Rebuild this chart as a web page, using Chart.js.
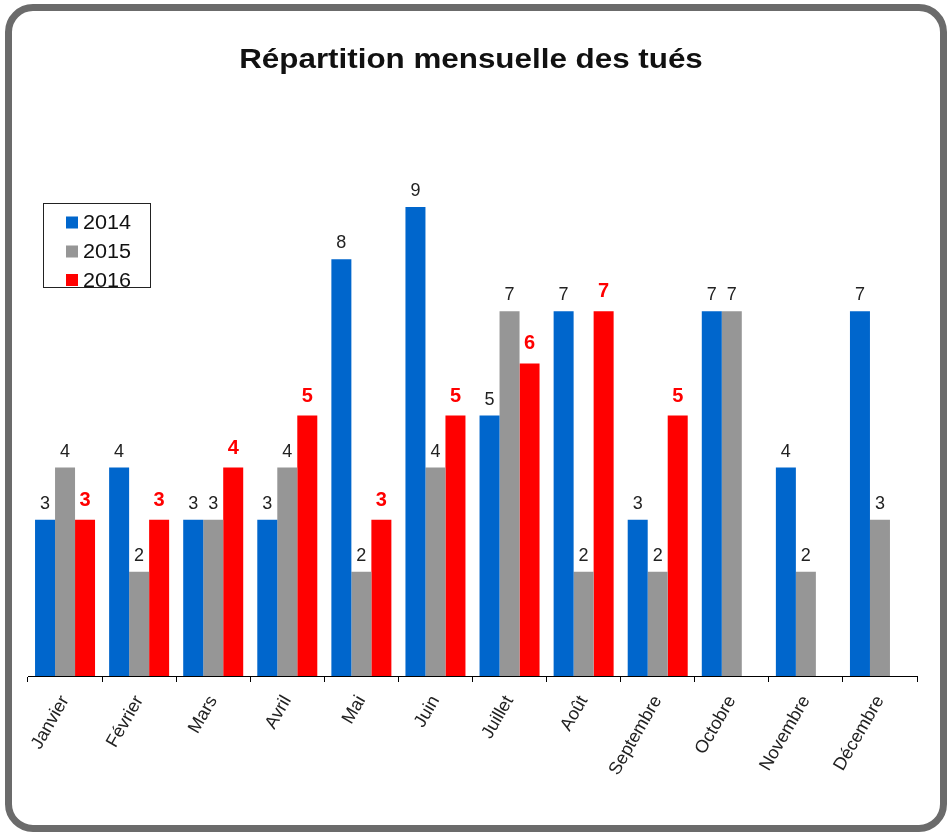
<!DOCTYPE html>
<html>
<head>
<meta charset="utf-8">
<script src="https://cdn.jsdelivr.net/npm/chart.js@4/dist/chart.umd.min.js"></script>
<style>
  html, body { margin: 0; padding: 0; background: #fff; }
  #wrap { position: relative; width: 949px; height: 832px; overflow: hidden; }
  #frame { position: absolute; left: 5px; top: 4px; width: 942px; height: 828px; box-sizing: border-box;
           border: 7px solid #6b6b6b; border-radius: 28px; }
  canvas { position: absolute; left: 0; top: 0; }
</style>
</head>
<body>
<div id="wrap">
  <div id="frame"></div>
  <canvas id="c" width="949" height="832"></canvas>
</div>
<script>
const titleText = 'Répartition mensuelle des tués';
const categories = ['Janvier','Février','Mars','Avril','Mai','Juin','Juillet','Août','Septembre','Octobre','Novembre','Décembre'];
const seriesNames = ['2014', '2015', '2016'];
const values2014 = [3, 4, 3, 3, 8, 9, 5, 7, 3, 7, 4, 7];
const values2015 = [4, 2, 3, 4, 2, 4, 7, 2, 2, 7, 2, 3];
const values2016 = [3, 3, 4, 5, 3, 5, 6, 7, 5, null, null, null];

const colors = ['#0066cc', '#969696', '#ff0000'];
const FONT = '"Liberation Sans", Arial, sans-serif';

const extras = {
  id: 'extras',
  afterDraw(chart) {
    const ctx = chart.ctx;
    ctx.save();
    // title (slightly stretched horizontally like the reference)
    ctx.save();
    ctx.translate(471, 68);
    ctx.scale(1.12, 1);
    ctx.fillStyle = '#111';
    ctx.font = 'bold 28px ' + FONT;
    ctx.textAlign = 'center';
    ctx.textBaseline = 'alphabetic';
    ctx.fillText(titleText, 0, 0);
    ctx.restore();

    // data labels
    chart.data.datasets.forEach((ds, di) => {
      const meta = chart.getDatasetMeta(di);
      meta.data.forEach((el, i) => {
        const v = ds.data[i];
        if (v === null || v === undefined) return;
        ctx.textAlign = 'center';
        ctx.textBaseline = 'alphabetic';
        if (di === 2) {
          ctx.font = 'bold 20px ' + FONT;
          ctx.fillStyle = '#ff0000';
          ctx.fillText(String(v), el.x, el.y - 14);
        } else {
          ctx.font = '18px ' + FONT;
          ctx.fillStyle = '#222';
          ctx.fillText(String(v), el.x, el.y - 11);
        }
      });
    });

    // legend
    ctx.fillStyle = '#fff';
    ctx.fillRect(43.5, 203.5, 107, 84);
    ctx.strokeStyle = '#222';
    ctx.lineWidth = 1;
    ctx.strokeRect(43.5, 203.5, 107, 84);
    const rows = [222.5, 251.5, 280];
    chart.data.datasets.forEach((ds, di) => {
      ctx.fillStyle = ds.backgroundColor;
      ctx.fillRect(66, rows[di] - 6, 12, 12);
      ctx.save();
      ctx.translate(83, rows[di] + 1);
      ctx.scale(1.08, 1);
      ctx.fillStyle = '#111';
      ctx.font = '20px ' + FONT;
      ctx.textAlign = 'left';
      ctx.textBaseline = 'middle';
      ctx.fillText(ds.label, 0, 0);
      ctx.restore();
    });
    ctx.restore();
  }
};

new Chart(document.getElementById('c'), {
  type: 'bar',
  data: {
    labels: categories,
    datasets: [
      { label: seriesNames[0], data: values2014, backgroundColor: colors[0] },
      { label: seriesNames[1], data: values2015, backgroundColor: colors[1] },
      { label: seriesNames[2], data: values2016, backgroundColor: colors[2] }
    ]
  },
  options: {
    responsive: false,
    animation: false,
    devicePixelRatio: 1,
    layout: { padding: { left: 28, right: 32, top: 155, bottom: 0 } },
    datasets: { bar: { categoryPercentage: 0.81, barPercentage: 1.0, borderWidth: 0 } },
    plugins: { legend: { display: false }, title: { display: false }, tooltip: { enabled: false } },
    scales: {
      y: { display: false, min: 0, max: 10 },
      x: {
        afterFit(axis) { axis.height = 156; },
        grid: { offset: true, drawOnChartArea: false, drawTicks: true, tickLength: 6, color: '#000', lineWidth: 1 },
        border: { display: true, color: '#000', width: 1 },
        ticks: { minRotation: 60, maxRotation: 60, padding: 10, color: '#222', font: { family: FONT, size: 18 } }
      }
    }
  },
  plugins: [extras]
});
</script>
</body>
</html>
